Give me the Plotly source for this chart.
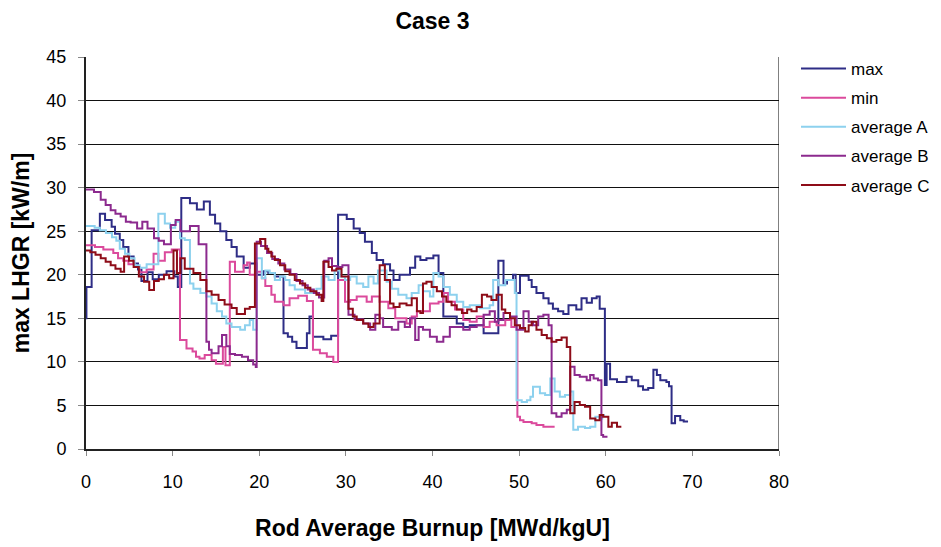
import plotly.graph_objects as go

# ---- data (burnup [MWd/kgU], max LHGR [kW/m]) ----
max_x = [0, 0.05, 0.65, 1.6, 2.2, 2.96, 3.35, 3.9, 4.3, 4.9, 5.5, 6.0, 6.4, 7.1, 7.7, 8.4, 9.3, 10.2, 10.6,
         11.0, 12.0, 12.8, 13.6, 14.3, 14.9, 15.5, 16.2, 16.8, 17.4, 18.2, 18.9, 19.7, 20.5, 21.05, 21.8,
         22.8, 23.3, 23.8, 24.3, 25.5, 25.8, 26.2, 27.4, 28.3, 29.1, 30.1, 30.9, 31.6, 32.2, 33.0, 33.55,
         34.3, 35.1, 35.5, 36.2, 37.4, 38.0, 38.6, 39.3, 40.1, 40.7, 41.25, 42.8, 43.55, 44.3, 45.9, 47.6,
         48.2, 48.6, 49.3, 49.6, 50.1, 51.1, 51.45, 52.0, 52.8, 53.4, 53.9, 54.5, 55.1, 55.7, 56.6, 57.2,
         57.8, 58.4, 58.95, 59.3, 59.9, 60.1, 60.5, 61.3, 62.4, 63.0, 63.75, 64.3, 64.9, 65.5, 65.9, 66.3,
         67.0, 67.3, 67.6, 68.0, 68.6, 69.0, 69.5]
max_y = [15.0, 18.6, 25.1, 27.0, 26.3, 25.5, 24.7, 24.0, 23.2, 22.1, 21.3, 20.6, 19.3, 20.3, 19.5, 20.0, 20.4, 19.8, 18.6,
         28.8, 28.2, 27.5, 28.4, 26.9, 25.9, 25.0, 24.0, 23.2, 22.1, 20.8, 21.3, 20.0, 20.4, 20.2, 19.8,
         13.3, 12.9, 12.3, 11.6, 13.3, 15.2, 12.9, 12.6, 13.0, 26.9, 26.4, 25.3, 24.8, 23.8, 22.5, 21.7,
         21.2, 20.5, 19.4, 20.0, 20.8, 22.1, 21.7, 21.9, 22.2, 20.2, 15.2, 14.4, 14.0, 14.2, 13.3, 21.6,
         19.0, 19.4, 20.0, 17.9, 19.9, 19.4, 18.6, 17.9, 17.3, 16.7, 16.1, 15.8, 15.5, 16.5, 16.0, 17.3,
         16.8, 17.3, 17.5, 16.1, 7.35, 9.8, 8.0, 7.7, 8.3, 7.9, 7.2, 6.8, 7.0, 9.1, 8.5, 7.9,
         7.7, 7.2, 2.95, 3.8, 3.3, 3.15, 3.15]

min_x = [0, 1.04, 2.0, 3.15, 3.7, 4.3, 4.9, 5.65, 6.2, 7.0, 7.8, 8.35, 9.1, 9.9, 10.85, 11.6, 12.3, 12.7,
         13.1, 13.7, 14.5, 15.0, 15.8, 16.1, 16.6, 17.2, 18.2, 18.6, 18.9, 19.7, 20.3, 20.7, 21.4, 21.8,
         22.8, 23.5, 24.5, 25.5, 26.2, 27.0, 27.8, 28.55, 29.1, 29.9, 30.5, 31.25, 32.4, 33.0, 33.9, 34.9,
         35.7, 37.0, 37.6, 38.2, 39.7, 40.7, 41.25, 41.8, 42.6, 43.55, 44.3, 45.1, 45.9, 46.6, 47.4, 48.4,
         49.1, 49.8, 50.1, 50.5, 51.45, 52.0, 52.8, 54.1]
min_y = [23.4, 23.2, 22.9, 22.5, 21.9, 21.6, 21.2, 20.9, 20.3, 20.6, 22.4, 21.6, 22.6, 22.9, 12.5, 11.55, 11.2, 10.6,
         10.4, 10.8, 10.2, 9.8, 11.7, 9.6, 21.5, 20.35, 21.1, 21.4, 20.0, 20.35, 19.6, 18.7, 17.7, 16.9,
         16.5, 17.3, 17.6, 17.0, 11.4, 11.0, 10.6, 10.0, 19.4, 16.9, 17.1, 17.5, 16.9, 17.5, 16.9, 16.15,
         15.0, 14.4, 15.2, 15.8, 16.7, 16.9, 17.9, 16.9, 16.0, 14.8, 14.6, 15.2, 14.0, 14.6, 14.2, 14.8,
         14.0, 3.7, 3.3, 3.1, 2.95, 2.75, 2.55, 2.55]

avgA_x = [0, 1.0, 1.6, 2.3, 3.0, 3.5, 3.9, 4.5, 5.0, 5.6, 6.2, 7.0, 8.35, 9.1, 9.7, 10.3, 10.85, 11.4,
          12.0, 12.4, 13.2, 13.9, 14.5, 15.1, 15.7, 16.2, 16.8, 17.8, 18.35, 18.9, 19.3, 19.7, 20.3, 20.7,
          21.2, 21.8, 22.4, 23.0, 23.5, 24.1, 25.3, 26.6, 27.2, 28.0, 28.7, 29.3, 29.9, 30.5, 31.25, 32.0,
          32.6, 33.2, 33.7, 34.7, 35.3, 36.05, 37.0, 37.6, 38.4, 38.9, 39.7, 40.1, 40.7, 41.25, 42.0, 42.8,
          43.55, 44.3, 45.5, 46.6, 47.0, 47.6, 48.4, 49.5, 49.7, 50.3, 50.9, 51.3, 51.6, 52.4, 53.0, 53.6,
          54.1, 54.7, 55.3, 55.9, 56.25, 56.8, 57.6, 58.2, 58.8, 59.3, 59.6, 59.9]
avgA_y = [25.6, 25.4, 25.1, 24.8, 24.3, 23.9, 23.0, 22.4, 21.9, 21.1, 20.8, 21.2, 27.0, 25.9, 25.4, 26.1, 24.2, 24.0,
          19.0, 18.4, 17.9, 17.5, 16.7, 15.8, 15.2, 14.4, 14.0, 13.7, 14.2, 14.8, 13.7, 21.9, 19.6, 20.5,
          20.2, 19.4, 19.8, 19.4, 18.8, 18.3, 17.9, 18.4, 19.8, 19.4, 20.5, 19.8, 19.4, 19.8, 19.0, 18.6,
          19.8, 19.0, 20.5, 19.2, 18.4, 17.7, 17.3, 17.9, 18.8, 18.1, 17.5, 20.2, 19.8, 18.6, 17.7, 16.9,
          16.3, 16.5, 16.15, 16.5, 19.4, 18.8, 19.4, 17.9, 5.6, 5.4, 5.6, 6.0, 7.15, 6.4, 6.2, 8.1,
          6.6, 6.0, 6.2, 6.6, 2.2, 2.55, 2.4, 2.55, 3.7, 3.5, 3.9, 3.9]

avgB_x = [0, 0.92, 1.7, 2.27, 2.85, 3.4, 4.0, 4.6, 5.15, 5.9, 6.5, 7.1, 7.85, 8.4, 9.0, 9.8, 10.35, 10.9,
          12.0, 13.0, 13.9, 14.2, 14.5, 15.3, 15.7, 16.2, 16.6, 17.2, 18.0, 18.7, 19.3, 19.6, 19.7, 20.2,
          20.9, 21.5, 22.2, 22.9, 23.6, 24.3, 25.0, 25.6, 26.3, 26.9, 27.5, 28.0, 28.4, 29.0, 29.6, 30.3,
          31.0, 32.0, 32.8, 33.4, 33.9, 34.3, 35.3, 36.05, 36.8, 37.4, 38.0, 38.4, 38.9, 39.7, 40.5, 41.25,
          42.0, 43.55, 44.3, 45.1, 45.9, 46.6, 47.2, 47.6, 48.2, 48.95, 49.7, 50.5, 51.1, 51.6, 52.2, 52.8,
          53.4, 53.75, 54.3, 54.9, 55.5, 55.9, 56.4, 57.0, 57.8, 58.2, 58.6, 59.1, 59.5, 59.7, 60.2]
avgB_y = [29.8, 29.5, 28.6, 28.0, 27.4, 27.0, 26.7, 26.1, 26.0, 25.3, 26.1, 25.3, 24.2, 23.9, 23.5, 25.7, 26.3, 25.0,
          25.6, 23.5, 12.3, 11.4, 11.0, 11.8, 13.1, 11.8, 10.9, 10.8, 10.6, 10.2, 9.7, 9.4, 23.8, 23.3,
          22.5, 21.8, 21.3, 20.6, 20.1, 19.3, 18.8, 18.3, 17.9, 17.4, 21.6, 21.9, 21.0, 20.9, 21.1, 15.4,
          14.9, 14.4, 13.7, 15.4, 15.0, 14.0, 13.7, 14.6, 14.0, 15.0, 12.5, 14.0, 13.7, 12.9, 12.3, 12.9,
          14.0, 13.7, 14.0, 14.2, 15.4, 15.8, 14.6, 14.8, 15.6, 15.2, 13.7, 15.8, 14.6, 14.2, 15.2, 15.4,
          14.2, 4.1, 3.7, 4.1, 4.5, 9.45, 8.5, 8.3, 7.9, 8.5, 8.1, 7.9, 1.6, 1.4, 1.4]

avgC_x = [0, 0.5, 1.1, 1.7, 2.27, 2.85, 3.4, 4.0, 4.4, 4.96, 5.5, 6.1, 6.7, 7.3, 7.85, 8.4, 9.0, 9.6,
          10.1, 10.5, 10.9, 11.4, 12.4, 13.2, 13.9, 14.5, 15.3, 16.0, 16.8, 17.4, 18.35, 18.9, 19.5, 20.1,
          20.7, 21.05, 21.4, 21.8, 22.4, 23.0, 23.5, 24.1, 24.7, 25.3, 25.9, 26.6, 27.2, 27.4, 28.0, 28.4,
          28.9, 29.5, 30.3, 30.8, 31.25, 32.0, 32.6, 33.2, 33.9, 34.5, 35.1, 35.5, 36.2, 37.0, 37.6, 38.2,
          38.6, 38.9, 39.3, 39.9, 40.5, 41.1, 41.6, 42.2, 42.8, 43.4, 44.0, 44.5, 45.1, 45.7, 46.3, 46.8,
          47.4, 48.0, 48.4, 48.95, 49.5, 50.1, 50.7, 51.1, 51.45, 52.0, 52.6, 53.2, 53.75, 54.3, 54.9, 55.5,
          55.9, 56.4, 57.0, 57.6, 58.2, 58.8, 59.3, 59.7, 60.3, 60.7, 61.3, 61.8]
avgC_y = [22.8, 22.6, 22.3, 21.9, 21.5, 21.1, 20.7, 20.35, 22.1, 21.6, 20.9, 19.8, 19.2, 18.25, 19.3, 19.5, 20.0, 19.6,
          22.8, 20.2, 21.9, 20.7, 20.2, 19.4, 18.1, 17.7, 17.1, 16.6, 16.2, 15.5, 16.1, 16.3, 23.6, 24.1,
          23.0, 22.65, 22.1, 21.7, 21.1, 20.4, 20.0, 19.4, 19.0, 18.5, 18.1, 17.7, 17.0, 21.5, 20.9, 20.5,
          20.7, 19.8, 16.1, 15.2, 14.8, 14.4, 14.0, 14.4, 21.1, 19.4, 16.7, 16.3, 16.7, 16.5, 17.3, 15.8,
          15.6, 19.0, 19.2, 18.6, 18.1, 17.5, 16.9, 16.5, 16.0, 15.6, 16.0, 15.8, 16.3, 17.7, 17.5, 17.1,
          17.7, 16.0, 15.6, 15.0, 14.2, 13.9, 13.5, 14.2, 14.6, 13.7, 13.1, 12.7, 12.3, 12.5, 12.8, 11.7,
          4.1, 5.4, 5.05, 4.85, 3.5, 3.3, 3.9, 3.7, 2.55, 3.0, 2.55, 2.55]

series_names = ["max", "min", "average A", "average B", "average C"]
series_colors = ["#2E2D86", "#DB4A9C", "#8DD1EE", "#8C2A8E", "#8E0C18"]
series_data = [(max_x, max_y), (min_x, min_y), (avgA_x, avgA_y), (avgB_x, avgB_y), (avgC_x, avgC_y)]

x_ticks = [0, 10, 20, 30, 40, 50, 60, 70, 80]
y_ticks = [0, 5, 10, 15, 20, 25, 30, 35, 40, 45]

FONT = "Liberation Sans, Arial, sans-serif"
W, H = 933, 539  # page body adds an 8px offset

fig = go.Figure()
for name, color, (xs, ys) in zip(series_names, series_colors, series_data):
    fig.add_trace(go.Scatter(
        x=xs, y=ys, mode="lines", name=name, legendgroup=name,
        line=dict(color=color, width=2, shape="hv"),
    ))

# right border of plot area
fig.add_shape(type="line", xref="x", yref="y", x0=80, x1=80, y0=0, y1=45,
              line=dict(color="black", width=1), layer="above")

fig.update_layout(
    width=W, height=H,
    margin=dict(l=78, r=162, t=49, b=98, autoexpand=False),
    paper_bgcolor="white", plot_bgcolor="white",
    font=dict(family=FONT, color="black"),
    title=dict(text="Case 3", font=dict(size=23, family=FONT, color="black", weight="bold"),
               x=0.5, xref="paper", xanchor="center",
               y=1.0, yref="container", yanchor="top", pad=dict(t=5)),
    showlegend=True,
    legend=dict(x=(796 - 86) / 693, y=1 + 6 / 392, xanchor="left", yanchor="top",
                font=dict(size=17, family=FONT, color="black"),
                tracegroupgap=4, itemwidth=45, bgcolor="rgba(0,0,0,0)"),
    xaxis=dict(range=[0, 80], tickvals=x_ticks, ticktext=[str(v) for v in x_ticks],
               showgrid=False, zeroline=False, showline=True, linecolor="#222", linewidth=2,
               ticks="outside", ticklen=5, tickcolor="#888", tickwidth=1, automargin=False,
               tickfont=dict(size=18, family=FONT, color="black"), ticklabelstandoff=10,
               title=dict(text="Rod Average Burnup [MWd/kgU]",
                          font=dict(size=23, family=FONT, color="black", weight="bold"), standoff=29)),
    yaxis=dict(range=[0, 45], tickvals=y_ticks, ticktext=[str(v) for v in y_ticks],
               showgrid=True, gridcolor="#111", gridwidth=1, zeroline=False,
               showline=True, linecolor="#222", linewidth=2, automargin=False,
               ticks="outside", ticklen=6, tickcolor="#888", tickwidth=1,
               tickfont=dict(size=18, family=FONT, color="black"), ticklabelstandoff=8,
               title=dict(text="max LHGR [kW/m]",
                          font=dict(size=23, family=FONT, color="black", weight="bold"), standoff=16)),
)

fig.write_html("out.html")
